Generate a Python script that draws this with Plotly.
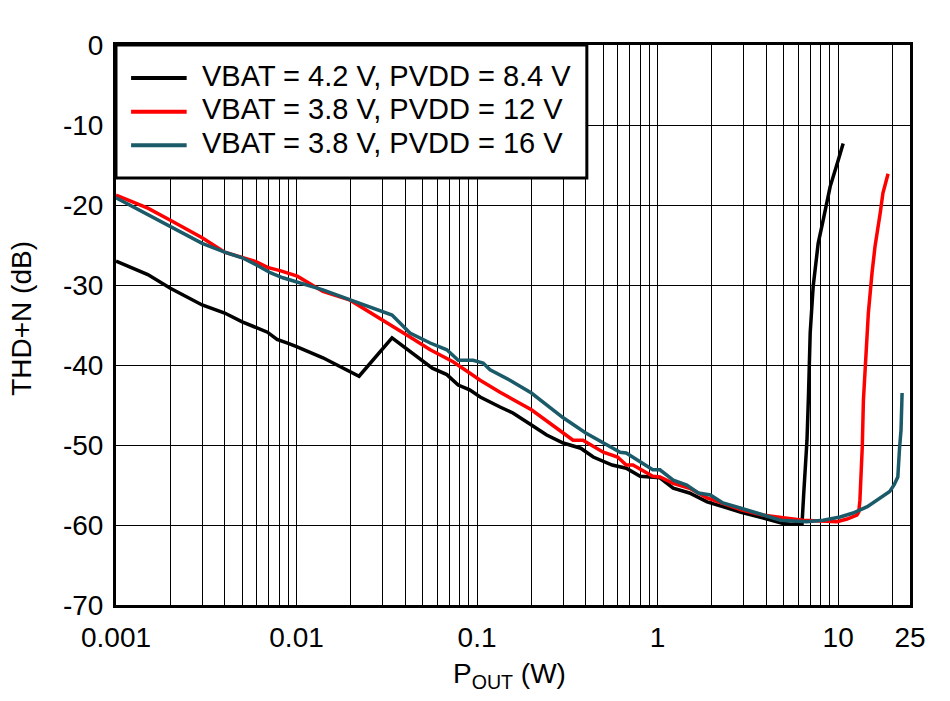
import plotly.graph_objects as go

# ---- data ----
x_black = [0.001, 0.0015, 0.002, 0.003, 0.004, 0.0045, 0.005, 0.0069, 0.0078, 0.009, 0.01,
           0.014, 0.0198, 0.0222, 0.0338, 0.05, 0.0565, 0.068, 0.0786, 0.091, 0.104, 0.134,
           0.158, 0.2, 0.243, 0.3, 0.375, 0.44, 0.56, 0.67, 0.8, 1.03, 1.22, 1.5, 1.88, 2.9,
           3.6, 4.96, 5.5, 6.31, 6.45, 6.56, 6.72, 6.85, 7.0, 7.27, 7.75, 8.26, 9.03, 9.95, 10.66]
y_black = [-27.0, -28.7, -30.4, -32.5, -33.5, -34.1, -34.6, -35.9, -36.8, -37.3, -37.7,
           -39.1, -40.9, -41.4, -36.6, -39.6, -40.4, -41.2, -42.5, -43.1, -44.0, -45.25,
           -46.0, -47.5, -48.75, -49.75, -50.4, -51.5, -52.5, -52.9, -53.9, -54.1, -55.4, -56.0, -57.1, -58.4,
           -59.0, -59.8, -59.9, -59.8, -56.0, -53.4, -49.4, -43.75, -36.0, -30.2, -24.8, -21.9, -17.7, -14.6, -12.3]

x_red = [0.001, 0.0015, 0.002, 0.003, 0.004, 0.005, 0.006, 0.0069, 0.0081, 0.0101, 0.014,
         0.0198, 0.0302, 0.0425, 0.055, 0.0736, 0.091, 0.104, 0.134, 0.152, 0.2, 0.3, 0.34,
         0.386, 0.5, 0.6, 0.67, 0.73, 0.82, 0.94, 1.03, 1.22, 1.5, 1.88, 2.9, 3.8, 4.96, 6.4,
         9.87, 11.2, 12.7, 13.0, 13.2, 13.4, 13.6, 13.8, 14.5, 14.7, 15.4, 16.0, 17.1, 17.7, 18.9]
y_red = [-18.75, -20.4, -21.9, -24.1, -25.9, -26.5, -27.1, -27.8, -28.2, -28.9, -30.8,
         -31.9, -34.4, -36.5, -38.1, -39.6, -41.0, -41.9, -43.4, -44.1, -45.6, -48.5, -49.4,
         -49.4, -50.9, -51.5, -52.5, -52.5, -53.1, -53.9, -54.0, -54.8, -55.4, -56.6, -58.1, -58.75, -59.1, -59.4,
         -59.6, -59.25, -58.75, -58.4, -56.9, -54.4, -50.25, -44.4, -36.9, -33.5, -28.5, -25.2, -21.0, -18.5, -16.1]

x_teal = [0.001, 0.002, 0.003, 0.004, 0.005, 0.006, 0.0072, 0.0084, 0.01, 0.014, 0.02,
          0.0279, 0.0338, 0.0425, 0.055, 0.068, 0.0786, 0.095, 0.108, 0.118, 0.152, 0.2,
          0.3, 0.4, 0.5, 0.62, 0.67, 0.8, 0.94, 1.03, 1.22, 1.45, 1.68, 1.96, 2.3, 2.9, 3.6,
          4.8, 6.7, 8.26, 10.25, 12.1, 14.5, 17.1, 19.3, 20.4, 21.4, 21.9, 22.3, 22.6]
y_teal = [-19.1, -22.7, -24.8, -25.9, -26.6, -27.5, -28.5, -29.1, -29.6, -30.6, -31.9,
          -33.1, -33.75, -36.0, -37.25, -38.1, -39.4, -39.4, -39.75, -40.6, -41.9, -43.5,
          -46.6, -48.5, -49.75, -50.9, -51.0, -52.1, -53.1, -53.1, -54.4, -55.0, -56.0, -56.25, -57.25, -57.9, -58.5,
          -59.4, -59.6, -59.4, -59.0, -58.5, -57.7, -56.6, -55.8, -55.0, -54.0, -50.25, -48.1, -43.5]

series_names = ["VBAT = 4.2 V, PVDD = 8.4 V",
                "VBAT = 3.8 V, PVDD = 12 V",
                "VBAT = 3.8 V, PVDD = 16 V"]
series_colors = ["#000000", "#FF0000", "#1B5A68"]

x_major_vals = [0.001, 0.01, 0.1, 1, 10, 25]
x_major_text = ["0.001", "0.01", "0.1", "1", "10", "25"]
x_minor_vals = ([m * 0.001 for m in range(2, 10)] + [m * 0.01 for m in range(2, 10)] +
                [m * 0.1 for m in range(2, 10)] + [m * 1.0 for m in range(2, 10)] + [20])
y_tick_vals = [0, -10, -20, -30, -40, -50, -60, -70]
y_tick_text = ["0", "-10", "-20", "-30", "-40", "-50", "-60", "-70"]

FONT = "Liberation Sans, Arial, sans-serif"

fig = go.Figure()
for xs, ys, name, col in zip([x_black, x_red, x_teal], [y_black, y_red, y_teal],
                             series_names, series_colors):
    fig.add_trace(go.Scatter(x=xs, y=ys, mode="lines", name=name,
                             line=dict(color=col, width=3.5), showlegend=False))

fig.update_layout(
    width=950, height=701,
    margin=dict(l=116, r=40, t=45, b=96),
    paper_bgcolor="white", plot_bgcolor="white",
    font=dict(family=FONT, size=28, color="black"),
    xaxis=dict(type="log", range=[-3, 1.39794], tickvals=x_major_vals, ticktext=x_major_text,
               showgrid=True, gridcolor="black", gridwidth=1,
               minor=dict(tickvals=x_minor_vals, showgrid=True, gridcolor="black",
                          gridwidth=1, ticks=""),
               showline=True, linecolor="black", linewidth=3, mirror=True,
               ticks="", ticklabelstandoff=5, zeroline=False,
               tickfont=dict(size=28)),
    yaxis=dict(range=[-70, 0], tickvals=y_tick_vals, ticktext=y_tick_text,
               showgrid=True, gridcolor="black", gridwidth=1,
               showline=True, linecolor="black", linewidth=3, mirror=True,
               ticks="", ticklabelstandoff=4, zeroline=False,
               tickfont=dict(size=28)),
)

# axis titles
fig.add_annotation(text="THD+N (dB)", xref="paper", yref="paper", x=-0.119, y=0.512,
                   textangle=-90, showarrow=False, font=dict(size=28),
                   xanchor="center", yanchor="middle")
fig.add_annotation(text="P<sub>OUT</sub> (W)", xref="paper", yref="paper", x=0.496, y=-0.125,
                   showarrow=False, font=dict(size=28), xanchor="center", yanchor="middle")

# legend box (drawn manually)
fig.add_shape(type="rect", xref="paper", yref="paper", x0=0, x1=0.593, y0=0.7625, y1=1,
              line=dict(color="black", width=3), fillcolor="white", layer="above")
legend_y = [0.941, 0.881, 0.821]
for yy, name, col in zip(legend_y, series_names, series_colors):
    fig.add_shape(type="line", xref="paper", yref="paper", x0=0.019, x1=0.089, y0=yy, y1=yy,
                  line=dict(color=col, width=4), layer="above")
    fig.add_annotation(text=name, xref="paper", yref="paper", x=0.106, y=yy + 0.004,
                       xanchor="left", yanchor="middle", showarrow=False,
                       font=dict(size=29))

fig.write_html("out.html", config={"displayModeBar": False},
               post_script="document.body.style.margin='0';document.body.style.overflow='hidden';")
